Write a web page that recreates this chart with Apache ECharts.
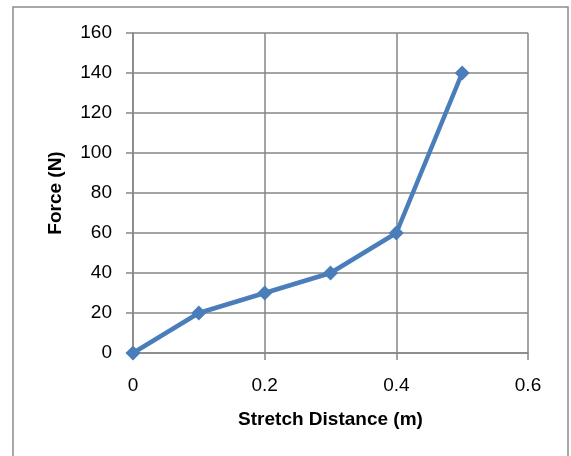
<!DOCTYPE html>
<html>
<head>
<meta charset="utf-8">
<script src="https://cdn.jsdelivr.net/npm/echarts@6/dist/echarts.min.js"></script>
<style>
html,body{margin:0;padding:0;background:#fff;}
#chart{width:571px;height:456px;}
</style>
</head>
<body>
<div id="chart"></div>
<script>
var stretchDistance = [0, 0.1, 0.2, 0.3, 0.4, 0.5];
var forceValues = [0, 20, 30, 40, 60, 140];
var xAxisTitle = 'Stretch Distance (m)';
var yAxisTitle = 'Force (N)';

var chart = echarts.init(document.getElementById('chart'), null, {renderer: 'canvas'});
var gridColor = '#868686';
var font = "'Liberation Sans', Arial, sans-serif";
var data = stretchDistance.map(function (x, i) { return [x, forceValues[i]]; });

chart.setOption({
  animation: false,
  backgroundColor: '#ffffff',
  graphic: [{
    type: 'rect',
    shape: {x: 13, y: 7, width: 555, height: 470},
    style: {fill: 'none', stroke: '#8c8c8c', lineWidth: 1.5},
    silent: true
  }],
  grid: {left: 133, right: 43, top: 33, bottom: 103, containLabel: false},
  xAxis: {
    type: 'value',
    min: 0, max: 0.6, interval: 0.2,
    name: xAxisTitle,
    nameLocation: 'middle',
    nameGap: 57,
    nameTextStyle: {fontFamily: font, fontSize: 19, fontWeight: 'bold', color: '#000'},
    axisLine: {show: true, onZero: false, lineStyle: {color: gridColor, width: 1.5}},
    axisTick: {show: true, length: 7, inside: false, lineStyle: {color: gridColor, width: 1.5}},
    axisLabel: {margin: 23, fontFamily: font, fontSize: 19, color: '#000',
      formatter: function (v) { return String(Math.round(v * 10) / 10); }},
    splitLine: {show: true, lineStyle: {color: gridColor, width: 1.5}}
  },
  yAxis: {
    type: 'value',
    min: 0, max: 160, interval: 20,
    name: yAxisTitle,
    nameLocation: 'middle',
    nameGap: 68,
    nameTextStyle: {fontFamily: font, fontSize: 19, fontWeight: 'bold', color: '#000'},
    axisLine: {show: true, lineStyle: {color: gridColor, width: 1.5}},
    axisTick: {show: true, length: 7, lineStyle: {color: gridColor, width: 1.5}},
    axisLabel: {margin: 21, fontFamily: font, fontSize: 19, color: '#000'},
    splitLine: {show: true, lineStyle: {color: gridColor, width: 1.5}}
  },
  series: [{
    type: 'line',
    data: data,
    symbol: 'diamond',
    symbolSize: 15,
    lineStyle: {color: '#4a7ebb', width: 4.5},
    itemStyle: {color: '#4a7ebb'},
    clip: false
  }]
});
</script>
</body>
</html>
